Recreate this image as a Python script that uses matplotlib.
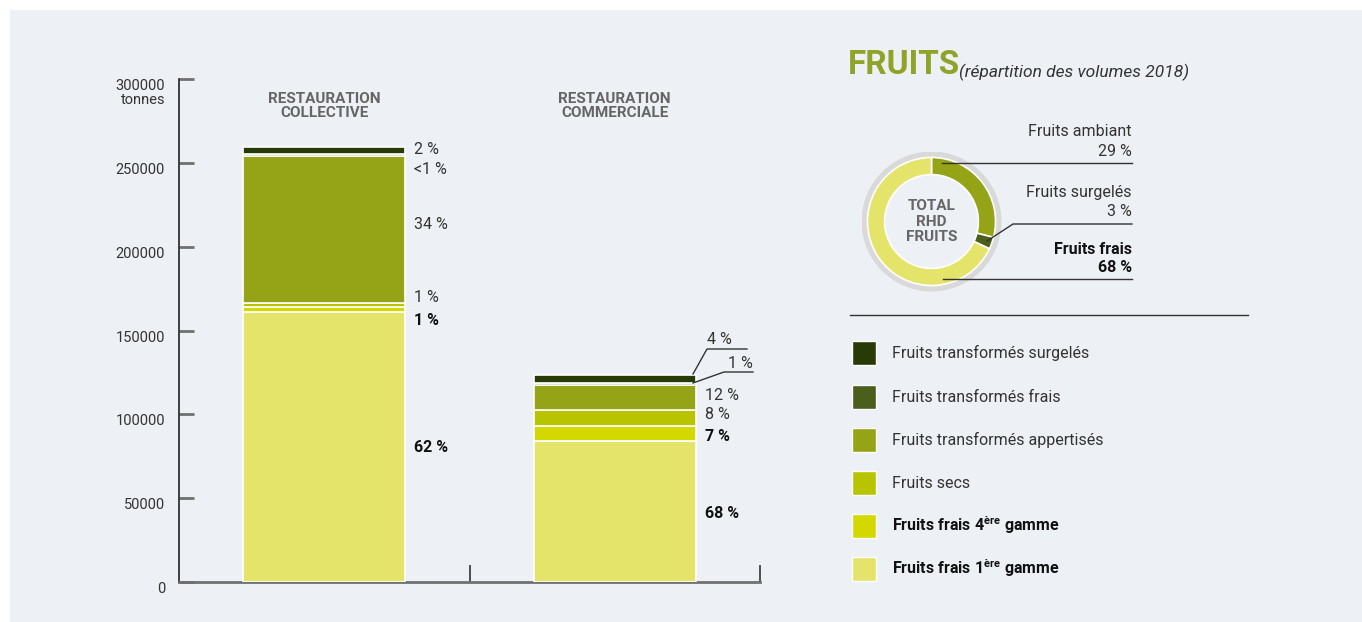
import numpy as np
import matplotlib.pyplot as plt
from matplotlib.patches import Rectangle, Circle
from matplotlib.lines import Line2D

plt.rcParams['font.family'] = ['Roboto', 'DejaVu Sans']
plt.rcParams['mathtext.fontset'] = 'custom'
plt.rcParams['mathtext.rm'] = 'Roboto'
plt.rcParams['mathtext.bf'] = 'Roboto:bold'

# ---- data (tonnes) ----
sites = ["RESTAURATION\nCOLLECTIVE", "RESTAURATION\nCOMMERCIALE"]
series = ["Fruits frais 1$^{\\mathbf{ère}}$ gamme",
          "Fruits frais 4$^{\\mathbf{ère}}$ gamme",
          "Fruits secs",
          "Fruits transformés appertisés",
          "Fruits transformés frais",
          "Fruits transformés surgelés"]
frais_1 = [161000, 84000]
frais_4 = [3000, 8800]
secs = [2500, 9700]
appertises = [87500, 14700]
transf_frais = [1000, 1300]
surgeles = [4500, 4900]
pct_collective = ["62 %", "1 %", "1 %", "34 %", "<1 %", "2 %"]
pct_commerciale = ["68 %", "7 %", "8 %", "12 %", "1 %", "4 %"]
colors = ["#e5e46a", "#d3d800", "#b8c400", "#95a316", "#4b5e1c", "#283a05"]

donut_labels = ["Fruits ambiant", "Fruits surgelés", "Fruits frais"]
donut_values = [29, 3, 68]
donut_colors = ["#95a316", "#4b5e1c", "#e5e46a"]

W, H = 1362, 622
BG = "#edf1f5"
TXT = "#333333"
DARK = "#111111"
THIN = "normal"
fig = plt.figure(figsize=(W / 100, H / 100), dpi=100)
fig.patch.set_facecolor("white")


def fx(x):
    return x / W


def fy(y):
    return 1 - y / H


fig.add_artist(Rectangle((fx(10), 0), 1 - fx(10), fy(10), transform=fig.transFigure,
                         facecolor=BG, edgecolor="none", zorder=0))

# ---- stacked bars ----
ax = fig.add_axes([fx(179), fy(582), fx(760) - fx(179), fy(79) - fy(582)])
ax.set_facecolor("none")
ax.set_xlim(-0.5, 1.5)
ax.set_ylim(0, 300000)
x = np.arange(len(sites))
stack = [frais_1, frais_4, secs, appertises, transf_frais, surgeles]
bottom = np.zeros(len(sites))
for vals, col, lab in zip(stack, colors, series):
    ax.bar(x, vals, 0.558, bottom=bottom, color=col, edgecolor="white",
           linewidth=1.2, label=lab, zorder=3)
    bottom = bottom + np.array(vals)

for s in ["top", "right"]:
    ax.spines[s].set_visible(False)
ax.spines["left"].set_color("#222222")
ax.spines["left"].set_linewidth(1.2)
ax.spines["bottom"].set_color("#707070")
ax.spines["bottom"].set_linewidth(2)
ax.set_yticks([0, 50000, 100000, 150000, 200000, 250000, 300000])
ax.set_yticklabels(["0", "50000", "100000", "150000", "200000", "250000", "300000\ntonnes"],
                   va="top", ma="right")
ax.tick_params(axis="y", direction="in", length=11, width=2, color="#707070",
               labelsize=10.5, labelcolor=TXT, pad=10)
for t in ax.get_yticklabels():
    t.set_fontweight(THIN)
    t.set_linespacing(1.0)
ax.set_xticks([0.5, 1.5])
ax.set_xticklabels([])
ax.tick_params(axis="x", direction="in", length=12, width=1.2, color="#333333")

for i, name in enumerate(sites):
    ax.text(i, 292500, name, ha="center", va="top", fontsize=11, fontweight="bold",
            color="#666666", linespacing=1.05)

# percent labels, collective
lx = 0.279 + 0.03
coll_y = [80000, 156000, 169500, 213000, 246000, 258000]
for k, (lbl, yy) in enumerate(zip(pct_collective, coll_y)):
    bold = k < 2
    ax.text(lx, yy, lbl, ha="left", va="center", fontsize=11.5,
            fontweight="bold" if bold else THIN, color=DARK if bold else TXT)

# percent labels, commerciale
com_y = [41000, 87000, 100000, 111000]
for k in range(4):
    bold = k < 2
    ax.text(1 + 0.279 + 0.03, com_y[k], pct_commerciale[k], ha="left", va="center",
            fontsize=11.5, fontweight="bold" if bold else THIN,
            color=DARK if bold else TXT)

# leader lines for the two thin top segments
ltr = fig.transFigure
fig.add_artist(Line2D([fx(693), fx(707), fx(747)], [fy(374), fy(349), fy(349)],
                      transform=ltr, color="#333333", lw=1))
fig.add_artist(Line2D([fx(693), fx(724), fx(753)], [fy(383), fy(372), fy(372)],
                      transform=ltr, color="#333333", lw=1))
fig.text(fx(719), fy(339), pct_commerciale[5], ha="center", va="center", fontsize=11.5,
         fontweight=THIN, color=TXT)
fig.text(fx(740), fy(363), pct_commerciale[4], ha="center", va="center", fontsize=11.5,
         fontweight=THIN, color=TXT)

# ---- title ----
fig.text(fx(848), fy(65), "FRUITS", ha="left", va="center", fontsize=24,
         fontweight="bold", color="#8fa329")
fig.text(fx(959), fy(72), "(répartition des volumes 2018)", ha="left", va="center",
         fontsize=12.5, fontstyle="italic", fontweight=THIN, color=TXT)

# ---- donut ----
r = 70
dax = fig.add_axes([fx(931.5 - r), fy(221.5 + r), 2 * r / W, 2 * r / H])
dax.axis("off")
dax.add_patch(Circle((0, 0), 1.0, facecolor="#d9d9d9", edgecolor="none"))
dax.add_patch(Circle((0, 0), 0.915, facecolor=BG, edgecolor="none"))
dax.pie(donut_values, colors=donut_colors, startangle=90, counterclock=False,
        radius=0.915, wedgeprops=dict(width=0.245, edgecolor="white", linewidth=1.2))
dax.set_xlim(-1, 1)
dax.set_ylim(-1, 1)
dax.set_aspect("equal")
dax.text(0, 0, "TOTAL\nRHD\nFRUITS", ha="center", va="center", fontsize=11,
         fontweight="bold", color="#666666", linespacing=1.1)

lab_kw = dict(ha="right", va="center", fontsize=11.5)
fig.text(fx(1132), fy(132), donut_labels[0], fontweight=THIN, color=TXT, **lab_kw)
fig.text(fx(1132), fy(152), "%d %%" % donut_values[0], fontweight=THIN, color=TXT, **lab_kw)
fig.text(fx(1132), fy(193), donut_labels[1], fontweight=THIN, color=TXT, **lab_kw)
fig.text(fx(1132), fy(212), "%d %%" % donut_values[1], fontweight=THIN, color=TXT, **lab_kw)
fig.text(fx(1132), fy(249), donut_labels[2], fontweight="bold", color=DARK, **lab_kw)
fig.text(fx(1132), fy(268), "%d %%" % donut_values[2], fontweight="bold", color=DARK, **lab_kw)
fig.add_artist(Line2D([fx(942), fx(1132)], [fy(163), fy(163)], transform=ltr,
                      color="#333333", lw=1))
fig.add_artist(Line2D([fx(987), fx(1013), fx(1132)], [fy(241), fy(224), fy(224)],
                      transform=ltr, color="#333333", lw=1))
fig.add_artist(Line2D([fx(943), fx(1132)], [fy(279), fy(279)], transform=ltr,
                      color="#333333", lw=1))

# separator
fig.add_artist(Line2D([fx(850), fx(1248)], [fy(315), fy(315)], transform=ltr,
                      color="#333333", lw=1))

# ---- legend (fixed rows) ----
row_y = [569, 526, 483, 440, 397, 353]
for col, lab, yy in zip(colors, series, row_y):
    fig.add_artist(Rectangle((fx(852), fy(yy + 12)), 24 / W, 24 / H, transform=ltr,
                             facecolor=col, edgecolor="white", lw=1))
    bold = "gamme" in lab
    fig.text(fx(892), fy(yy + 5), lab, ha="left", va="baseline", fontsize=11.5,
             fontweight="bold" if bold else THIN, color=DARK if bold else TXT)

plt.savefig("out.png", dpi=100, facecolor=fig.get_facecolor())
